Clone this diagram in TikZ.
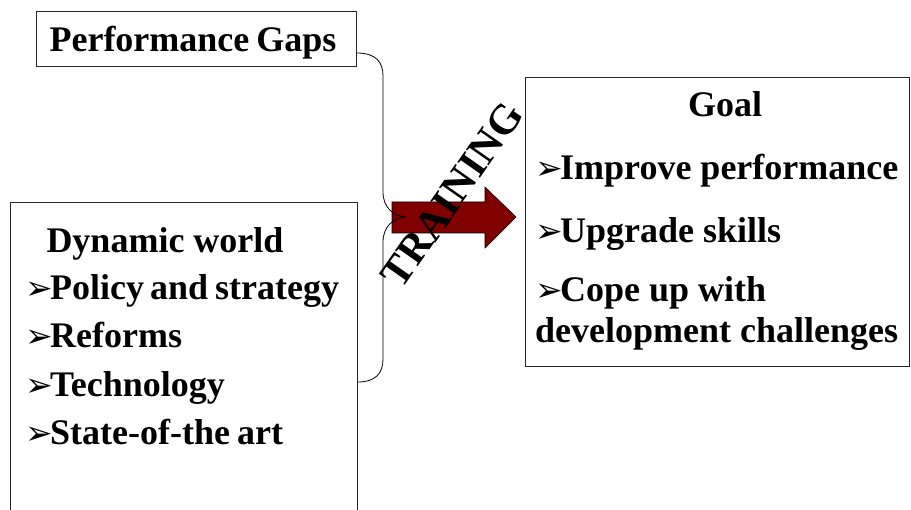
\documentclass[tikz,border=0pt]{standalone}
\usepackage{fontspec}
\setmainfont{Liberation Serif}
\newfontfamily\dejavu{DejaVu Sans}
\newcommand\bul{\makebox[25pt][l]{\raisebox{0.5pt}{\dejavu\fontsize{33}{33}\selectfont ➢}}}
\begin{document}
\begin{tikzpicture}[x=1pt,y=-1pt,
  box/.style={draw=black!85,line width=1pt,rectangle,inner sep=0pt},
  txt/.style={anchor=base west,inner sep=0pt,font=\fontsize{36}{40}\selectfont\bfseries},
  ctxt/.style={anchor=base,inner sep=0pt,font=\fontsize{36}{40}\selectfont\bfseries}]
\useasboundingbox (0,0) rectangle (911,510);
\clip (0,0) rectangle (911,510);
% boxes
\node[box,minimum width=320pt,minimum height=55pt] (perf) at (196,39.5) {};
\node[box,minimum width=347pt,minimum height=330pt] (dyn) at (183.5,368) {};
\node[box,minimum width=384pt,minimum height=289pt] (goal) at (717,222.5) {};
% texts
\node[ctxt] (tperf) at (193,52) {Performance\hspace{-2pt} Gaps};
\node[ctxt] (tdyn) at (165,253) {Dynamic world};
\node[txt] (d1) at (25,300) {\bul Policy\hspace{-3pt} and\hspace{-2pt} strategy};
\node[txt] (d2) at (25,348) {\bul Reforms};
\node[txt] (d3) at (25,397) {\bul Technology};
\node[txt] (d4) at (25,445) {\bul State-of-the\hspace{-2pt} art};
\node[ctxt] (tgoal) at (725,117) {Goal};
\node[txt] (g1) at (535,180) {\bul Improve performance};
\node[txt] (g2) at (535,243) {\bul Upgrade skills};
\node[txt] (g3) at (535,302) {\bul Cope up with};
\node[txt] (g4) at (535,343) {development challenges};
% arrow
\coordinate (tip) at (405,217);
\fill[fill={rgb,255:red,128;green,0;blue,0},draw=black,line width=0.6pt]
  (392,202) -- (485,202) -- (485,187) -- (516,217) -- (485,248) -- (485,233) -- (392,233) -- cycle;
\node[inner sep=0pt] (arrow) at (454,217) {};
% brace
\coordinate (b1) at (perf.east |- 0,53);
\coordinate (b2) at (dyn.east |- 0,382);
\draw[black,line width=0.8pt] (b1) .. controls (376,53) and (383,62) .. (383,76) -- (383,192)
  .. controls (383,208) and (394,216) .. (tip)
  .. controls (394,218) and (383,226) .. (383,242) -- (383,359)
  .. controls (383,373) and (376,382) .. (b2);
% TRAINING
\node[inner sep=0pt,rotate=55,font=\fontsize{42}{42}\selectfont\bfseries] (train) at (452,195) {TRAINING};
\end{tikzpicture}
\end{document}
